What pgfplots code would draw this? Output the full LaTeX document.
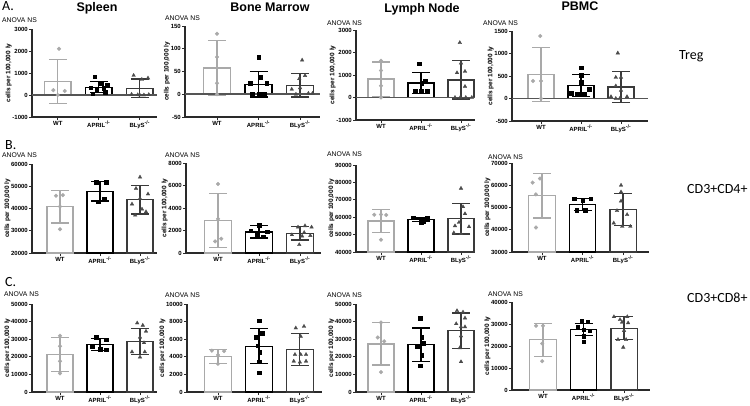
\documentclass[border=0pt]{standalone}
\usepackage{pgfplots}
\pgfplotsset{compat=1.18}
\usepackage{fontspec}
\setmainfont{Liberation Sans}
\newfontfamily\calfont{Carlito}
\definecolor{wtc}{HTML}{A9A9A9}
\definecolor{blc}{HTML}{3A3A3A}
\definecolor{blp}{HTML}{4A4A4A}
\definecolor{axc}{HTML}{2A2A2A}
\definecolor{zc}{HTML}{555555}
\pgfplotsset{
 prism/.style={scale only axis, anchor=south west, axis x line*=bottom, axis y line*=left,
   axis line style={line width=1.1pt, axc, -},
   xtick={0,1,2}, xticklabels={WT,APRIL\textsuperscript{-/-},BLyS\textsuperscript{-/-}},
   tick align=outside, major tick length=3pt, tick style={line width=0.9pt, axc},
   tick label style={font=\bfseries\fontsize{6}{7}\selectfont},
   yticklabel style={inner sep=1pt}, xticklabel style={inner sep=1pt},
   /pgf/number format/assume math mode=true, /pgf/number format/1000 sep={}, scaled y ticks=false,
   ylabel={cells per 100,000 ly}, ylabel style={font=\bfseries\fontsize{6.5}{7}\selectfont, inner sep=0.5pt}, ylabel shift=-1pt},
 wtbar/.style={ybar, bar width=0.65, bar shift=0pt, fill=white, draw=wtc, line width=1.3pt, mark=none,
   error bars/.cd, y dir=both, y explicit, error bar style={line width=1.2pt, draw=wtc},
   error mark options={rotate=90, mark size=9pt, line width=1.2pt, draw=wtc}},
 apbar/.style={ybar, bar width=0.65, bar shift=0pt, fill=white, draw=black, line width=1.3pt, mark=none,
   error bars/.cd, y dir=both, y explicit, error bar style={line width=1.2pt, draw=black},
   error mark options={rotate=90, mark size=9pt, line width=1.2pt, draw=black}},
 blbar/.style={ybar, bar width=0.65, bar shift=0pt, fill=white, draw=blc, line width=1.3pt, mark=none,
   error bars/.cd, y dir=both, y explicit, error bar style={line width=1.2pt, draw=blc},
   error mark options={rotate=90, mark size=9pt, line width=1.2pt, draw=blc}},
 zline/.style={line width=1.6pt, zc, mark=none},
 wtpt/.style={only marks, mark=*, mark size=1.9pt, mark options={fill=wtc, draw=wtc, line width=0.3pt}},
 appt/.style={only marks, mark=square*, mark size=1.8pt, mark options={fill=black, draw=black, line width=0.3pt}},
 blpt/.style={only marks, mark=triangle*, mark size=2.1pt, mark options={fill=blp, draw=blp, line width=0.3pt}},
}
\begin{document}
\begin{tikzpicture}
\useasboundingbox (0,0) rectangle (750pt,-405pt);
% ---------------- Row A ----------------
\begin{axis}[prism, at={(32pt,-117pt)}, width=125pt, height=88pt, xmin=-0.63, xmax=2.42, ymin=-1000, ymax=3000, ytick={-1000,0,1000,2000,3000}]
\addplot[wtbar] coordinates {(0,600) +- (0,1000)};
\addplot[apbar] coordinates {(1,350) +- (0,250)};
\addplot[blbar] coordinates {(2,300) +- (0,430)};
\addplot[zline] coordinates {(-0.63,0) (2.42,0)};
\addplot[wtpt] coordinates {(0.03,2100) (-0.11,220) (0.17,180) (0.0,0)};
\addplot[appt] coordinates {(0.9,840) (1.05,520) (1.2,460) (0.8,330) (1.12,300) (0.95,250) (1.15,120) (0.85,60)};
\addplot[blpt] coordinates {(1.85,890) (2.2,770) (2.05,710) (1.8,30) (1.95,10) (2.1,0) (2.22,20) (2.0,0)};
\end{axis}
\begin{axis}[prism, at={(185pt,-117pt)}, width=135pt, height=91pt, xmin=-0.77, xmax=2.48, ymin=-50, ymax=150, ytick={-50,0,50,100,150}]
\addplot[wtbar] coordinates {(0,58) +- (0,60)};
\addplot[apbar] coordinates {(1,22) +- (0,28)};
\addplot[blbar] coordinates {(2,20) +- (0,26)};
\addplot[zline] coordinates {(-0.77,0) (2.48,0)};
\addplot[wtpt] coordinates {(0,133) (0,82) (0,24) (0,0)};
\addplot[appt] coordinates {(1.0,81) (1.05,37) (0.8,25) (1.2,25) (0.85,0) (1.0,0) (1.15,0) (1.08,0)};
\addplot[blpt] coordinates {(2.05,75) (2.12,41) (1.98,34) (1.8,11) (2.0,14) (2.2,2) (2.3,2) (1.9,0)};
\end{axis}
\begin{axis}[prism, at={(356pt,-120pt)}, width=119pt, height=90pt, xmin=-0.625, xmax=2.35, ymin=-1000, ymax=3000, ytick={-1000,0,1000,2000,3000}]
\addplot[wtbar] coordinates {(0,820) +- (0,760)};
\addplot[apbar] coordinates {(1,640) +- (0,470)};
\addplot[blbar] coordinates {(2,780) +- (0,850)};
\addplot[zline] coordinates {(-0.625,0) (2.35,0)};
\addplot[wtpt] coordinates {(0,1630) (0,1200) (0,520) (0,0)};
\addplot[appt] coordinates {(0.95,1500) (1.1,740) (1.02,650) (0.85,300) (1.0,280) (1.15,270)};
\addplot[blpt] coordinates {(1.97,2440) (2.0,1530) (2.1,1160) (1.9,1100) (2.1,490) (1.85,0) (1.98,0) (2.12,0) (2.27,0)};
\end{axis}
\begin{axis}[prism, at={(512pt,-121pt)}, width=136pt, height=90pt, xmin=-0.725, xmax=2.675, ymin=-500, ymax=1500, ytick={-500,0,500,1000,1500}]
\addplot[wtbar] coordinates {(0,535) +- (0,600)};
\addplot[apbar] coordinates {(1,296) +- (0,244)};
\addplot[blbar] coordinates {(2,258) +- (0,350)};
\addplot[zline] coordinates {(-0.725,0) (2.675,0)};
\addplot[wtpt] coordinates {(-0.02,1390) (-0.2,390) (0.0,390) (0.0,0)};
\addplot[appt] coordinates {(1.0,690) (1.0,520) (1.0,360) (1.2,210) (0.75,120) (0.9,100) (1.08,96)};
\addplot[blpt] coordinates {(1.92,1010) (1.87,470) (2.0,470) (1.87,280) (2.0,180) (1.75,40) (1.87,0) (1.97,0) (2.15,40)};
\end{axis}
% ---------------- Row B ----------------
\begin{axis}[prism, at={(32pt,-253pt)}, width=125pt, height=89pt, xmin=-0.7, xmax=2.425, ymin=20000, ymax=60000, ytick={20000,30000,40000,50000,60000}]
\addplot[wtbar] coordinates {(0,40800) +- (0,7300)};
\addplot[apbar] coordinates {(1,47700) +- (0,4300)};
\addplot[blbar] coordinates {(2,43900) +- (0,6400)};
\addplot[wtpt] coordinates {(-0.1,45700) (0.07,46000) (0.0,40900) (0.0,30700)};
\addplot[appt] coordinates {(0.9,51800) (1.15,51800) (1.1,44200) (0.95,43000)};
\addplot[blpt] coordinates {(2.0,54100) (1.9,49000) (2.2,46500) (2.0,44500) (1.8,42000) (2.05,39700) (2.15,38500) (1.88,37000)};
\end{axis}
\begin{axis}[prism, at={(186pt,-253pt)}, width=135pt, height=90pt, xmin=-0.78, xmax=2.51, ymin=0, ymax=8000, ytick={0,2000,4000,6000,8000}]
\addplot[wtbar] coordinates {(0,2860) +- (0,2400)};
\addplot[apbar] coordinates {(1,1880) +- (0,550)};
\addplot[blbar] coordinates {(2,1750) +- (0,600)};
\addplot[wtpt] coordinates {(0,6130) (0,3035) (-0.07,1030) (0.08,1265)};
\addplot[appt] coordinates {(1.0,2450) (0.8,2000) (1.2,1900) (0.95,1600) (1.1,1450)};
\addplot[blpt] coordinates {(1.95,2300) (2.12,2415) (2.28,2300) (1.8,1620) (2.05,1500) (2.25,1550) (1.98,740) (2.1,1820)};
\end{axis}
\begin{axis}[prism, at={(356pt,-252pt)}, width=119pt, height=87pt, xmin=-0.625, xmax=2.35, ymin=40000, ymax=90000, ytick={40000,50000,60000,70000,80000,90000}]
\addplot[wtbar] coordinates {(0,57800) +- (0,6500)};
\addplot[apbar] coordinates {(1,58500) +- (0,1100)};
\addplot[blbar] coordinates {(2,59100) +- (0,8800)};
\addplot[wtpt] coordinates {(-0.17,61400) (0.0,61600) (0.13,61300) (0.0,47000)};
\addplot[appt] coordinates {(0.8,59700) (1.15,59500) (1.0,57200) (1.05,57600)};
\addplot[blpt] coordinates {(2.0,76600) (2.05,66000) (2.1,62000) (1.95,57000) (1.85,55000) (2.2,54500) (1.82,51000) (2.0,50500)};
\end{axis}
\begin{axis}[prism, at={(512pt,-252pt)}, width=137pt, height=89pt, xmin=-0.74, xmax=2.64, ymin=30000, ymax=70000, ytick={30000,40000,50000,60000,70000}]
\addplot[wtbar] coordinates {(0,55300) +- (0,10000)};
\addplot[apbar] coordinates {(1,51500) +- (0,2700)};
\addplot[blbar] coordinates {(2,49100) +- (0,7200)};
\addplot[wtpt] coordinates {(-0.23,61200) (-0.05,63000) (-0.15,55900) (-0.15,41000)};
\addplot[appt] coordinates {(0.8,54000) (1.2,54000) (1.0,53200) (0.85,48700) (1.07,48700)};
\addplot[blpt] coordinates {(1.95,60000) (1.95,57000) (1.95,52900) (1.85,48600) (2.1,46800) (1.77,43000) (1.98,41500) (2.18,41500)};
\end{axis}
% ---------------- Row C ----------------
\begin{axis}[prism, at={(32pt,-392pt)}, width=125pt, height=88pt, xmin=-0.7, xmax=2.425, ymin=0, ymax=50000, ytick={0,10000,20000,30000,40000,50000}]
\addplot[wtbar] coordinates {(0,21300) +- (0,9500)};
\addplot[apbar] coordinates {(1,27000) +- (0,3400)};
\addplot[blbar] coordinates {(2,28800) +- (0,7500)};
\addplot[wtpt] coordinates {(0,32000) (0,26000) (0,17500) (0,10600)};
\addplot[appt] coordinates {(0.9,31000) (1.15,29800) (0.8,26000) (1.0,24500) (1.15,24000)};
\addplot[blpt] coordinates {(1.93,39200) (2.07,37900) (2.15,34500) (2.0,31100) (2.1,28000) (1.8,22800) (2.12,22800) (2.0,19800)};
\end{axis}
\begin{axis}[prism, at={(187pt,-392pt)}, width=135pt, height=88pt, xmin=-0.756, xmax=2.54, ymin=0, ymax=10000, ytick={0,2000,4000,6000,8000,10000}]
\addplot[wtbar] coordinates {(0,4070) +- (0,800)};
\addplot[apbar] coordinates {(1,5200) +- (0,2000)};
\addplot[blbar] coordinates {(2,4830) +- (0,1800)};
\addplot[wtpt] coordinates {(-0.15,4700) (0.15,4650) (0.0,4200) (0.0,3200)};
\addplot[appt] coordinates {(1.0,8100) (0.93,6260) (1.08,6700) (0.97,5280) (1.02,4520) (1.0,3430) (1.0,2190)};
\addplot[blpt] coordinates {(1.9,7270) (2.1,7460) (2.02,6330) (1.88,4260) (2.02,4260) (2.15,4260) (1.85,3500) (2.0,3390) (2.15,3500)};
\end{axis}
\begin{axis}[prism, at={(356pt,-392pt)}, width=119pt, height=88pt, xmin=-0.625, xmax=2.35, ymin=0, ymax=50000, ytick={0,10000,20000,30000,40000,50000}]
\addplot[wtbar] coordinates {(0,27300) +- (0,12000)};
\addplot[apbar] coordinates {(1,26900) +- (0,9500)};
\addplot[blbar] coordinates {(2,34900) +- (0,10000)};
\addplot[wtpt] coordinates {(0,39500) (-0.08,31000) (0.08,28800) (0,11300)};
\addplot[appt] coordinates {(0.98,42000) (1.02,31100) (1.06,27900) (0.9,26000) (1.02,21000) (0.98,15000)};
\addplot[blpt] coordinates {(1.9,46200) (2.05,45400) (2.1,42000) (1.88,38800) (2.0,37000) (2.1,37000) (2.0,31800) (1.97,25100) (2.0,17200)};
\end{axis}
\begin{axis}[prism, at={(512pt,-390pt)}, width=138pt, height=88pt, xmin=-0.765, xmax=2.64, ymin=0, ymax=40000, ytick={0,10000,20000,30000,40000}]
\addplot[wtbar] coordinates {(0,22900) +- (0,7500)};
\addplot[apbar] coordinates {(1,27400) +- (0,2700)};
\addplot[blbar] coordinates {(2,28100) +- (0,5200)};
\addplot[wtpt] coordinates {(-0.17,29200) (0.0,29200) (-0.02,21100) (-0.02,13100)};
\addplot[appt] coordinates {(0.95,31300) (1.1,31000) (0.85,28500) (1.0,27500) (1.15,27000) (1.0,24500) (1.0,22000)};
\addplot[blpt] coordinates {(1.75,33300) (2.08,33300) (1.9,32000) (1.95,30800) (2.1,30500) (2.0,27000) (1.85,22900) (2.05,22900) (1.98,19400)};
\end{axis}
% ---------------- Texts ----------------
\begin{scope}[every node/.style={inner sep=0pt}]
\node[anchor=base west, font=\calfont\fontsize{14}{16}\selectfont] at (2pt,-10pt) {A.};
\node[anchor=base west, font=\calfont\fontsize{14}{16}\selectfont] at (5pt,-149pt) {B.};
\node[anchor=base west, font=\calfont\fontsize{14}{16}\selectfont] at (5pt,-286pt) {C.};
\node[anchor=base, font=\bfseries\fontsize{12.5}{14}\selectfont] at (97pt,-11.5pt) {Spleen};
\node[anchor=base, font=\bfseries\fontsize{12.5}{14}\selectfont] at (270pt,-11pt) {Bone Marrow};
\node[anchor=base, font=\bfseries\fontsize{12.5}{14}\selectfont] at (422pt,-12pt) {Lymph Node};
\node[anchor=base, font=\bfseries\fontsize{12.5}{14}\selectfont] at (580pt,-10.5pt) {PBMC};
\node[anchor=base west, font=\calfont\fontsize{14}{16}\selectfont] at (679pt,-59pt) {Treg};
\node[anchor=base west, font=\calfont\fontsize{14}{16}\selectfont] at (687pt,-193pt) {CD3+CD4+};
\node[anchor=base west, font=\calfont\fontsize{14}{16}\selectfont] at (687pt,-302pt) {CD3+CD8+};
\foreach \x/\y in {2/20.5, 165/18, 327/23, 483/23, 2/155, 165/155, 327/154, 488/157, 4/294, 165/295, 327/295, 488/294}
  \node[anchor=west, font=\fontsize{6.8}{8}\selectfont] at (\x pt,-\y pt) {ANOVA NS};
\end{scope}
\end{tikzpicture}
\end{document}
